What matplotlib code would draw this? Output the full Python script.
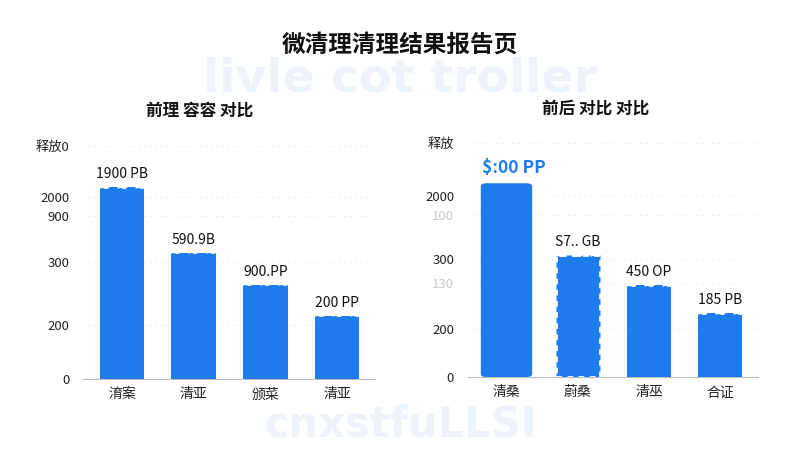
import matplotlib
matplotlib.use("Agg")
import matplotlib.pyplot as plt
from matplotlib.patches import FancyBboxPatch

plt.rcParams['font.family'] = ['Noto Sans CJK SC', 'DejaVu Sans']

# data
title = "微清理清理结果报告页"

left_title = "前理 容容 对比"
left_cats = ["淯案", "清亚", "颁菜", "清亚"]
left_vals = [192, 126, 94, 63]
left_labels = ["1900 PB", "590.9B", "900.PP", "200 PP"]
left_ticks = [0, 54, 117, 163, 182, 233]
left_ticklabels = ["0", "200", "300", "900", "2000", "释放0"]

right_title = "前后 对比 对比"
right_cats = ["清桑", "蔚桑", "清巫", "合证"]
right_vals = [194, 122, 92, 64]
right_labels = ["$:00 PP", "S7.. GB", "450 OP", "185 PB"]
right_ticks = [0, 48, 94, 118, 162, 181, 234]
right_ticklabels = ["0", "200", "130", "300", "100", "2000", "释放"]
right_faint = ["130", "100"]

blue = "#1f7cec"
wm = "#eef3fa"

fig = plt.figure(figsize=(8, 4.5), dpi=100)
fig.patch.set_facecolor("white")

# faint background lettering
fig.text(0.5, 0.825, "livle cot troller", ha="center", va="center",
         fontsize=34, fontweight="bold", color=wm, family="DejaVu Sans", zorder=0)
fig.text(0.5, 0.01, "cnxstfuLLSI", ha="center", va="bottom",
         fontsize=30, fontweight="bold", color=wm, family="DejaVu Sans", zorder=0)

fig.text(0.5, 0.9, title, ha="center", va="center", fontsize=17, fontweight="bold", color="#111111")


def draw(ax, cats, vals, ticks, ticklabels, sub, tx, faint=()):
    ax.set_facecolor("none")
    x = list(range(len(cats)))
    bars = ax.bar(x, vals, width=0.62, color=blue, zorder=3)
    ax.set_xlim(-0.54, 3.53)
    ax.set_ylim(0, 240)
    ax.set_xticks(x)
    ax.set_xticklabels(cats, fontsize=10, color="#222222")
    ax.set_yticks(ticks)
    ax.set_yticklabels(ticklabels, fontsize=9.5, color="#222222")
    for t in ax.get_yticklabels():
        if t.get_text() in faint:
            t.set_color("#c8c8c8")
    ax.tick_params(length=0, pad=10)
    ax.tick_params(axis="x", pad=6)
    for s in ["top", "right", "left"]:
        ax.spines[s].set_visible(False)
    ax.spines["bottom"].set_color("#bbbbbb")
    ax.grid(axis="y", color="#e4e4e4", linestyle=(0, (1, 4)), linewidth=0.8, zorder=0)
    ax.set_title(sub, fontsize=12, fontweight="bold", pad=17, color="#111111", x=tx)
    return bars


ax1 = fig.add_axes([0.104, 0.158, 0.365, 0.533])
b1 = draw(ax1, left_cats, left_vals, left_ticks, left_ticklabels, left_title, 0.40)
for b, lab in zip(b1, left_labels):
    ax1.text(b.get_x() + b.get_width() / 2, b.get_height() + 6, lab, ha="center", va="bottom",
             fontsize=10, color="#111111")

ax2 = fig.add_axes([0.585, 0.162, 0.3625, 0.533])
b2 = draw(ax2, right_cats, right_vals, right_ticks, right_ticklabels, right_title, 0.44, right_faint)
for i, (b, lab) in enumerate(zip(b2, right_labels)):
    if i == 0:
        ax2.text(b.get_x() + b.get_width() / 2 + 0.1, b.get_height() + 6, lab, ha="center", va="bottom",
                 fontsize=12.5, color=blue, fontweight="bold")
    else:
        ax2.text(b.get_x() + b.get_width() / 2, b.get_height() + 6, lab, ha="center", va="bottom",
                 fontsize=10, color="#111111")

# first bar on the right: rounded, a bit wider
r = b2[0]
r.set_visible(False)
ax2.add_patch(FancyBboxPatch((r.get_x() - 0.05, 0), r.get_width() + 0.1, r.get_height(),
                             boxstyle="round,pad=0,rounding_size=0.08", mutation_aspect=40,
                             facecolor=blue, edgecolor="none", zorder=3))
# second bar on the right: ragged edges
b2[1].set_edgecolor("white")
b2[1].set_linewidth(2)
b2[1].set_linestyle((0, (2, 2)))

# wavy tops
for ax, bars, skip in [(ax1, b1, None), (ax2, b2, 0)]:
    for i, b in enumerate(bars):
        if i == skip:
            continue
        ax.text(b.get_x() + b.get_width() / 2, b.get_height() - 1, "~ ~ ~", ha="center", va="center",
                fontsize=11, color="white", fontweight="bold", family="DejaVu Sans", zorder=4)

fig.savefig("out.png", dpi=100)
